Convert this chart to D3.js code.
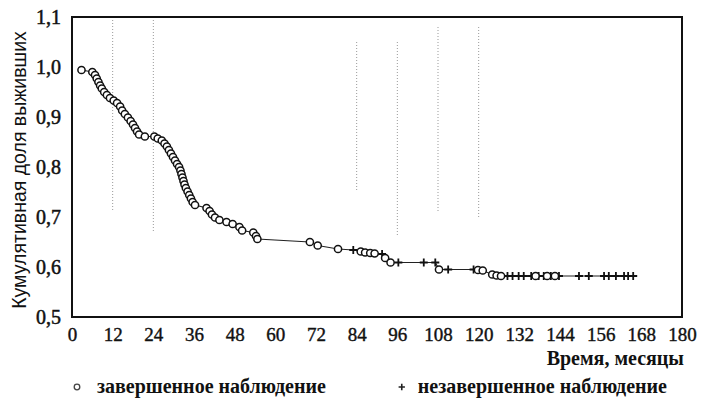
<!DOCTYPE html>
<html>
<head>
<meta charset="utf-8">
<script src="https://cdn.jsdelivr.net/npm/d3@7"></script>
<style>
  body { margin: 0; background: #fff; }
</style>
</head>
<body>
<div id="canvas"></div>
<script>
"use strict"

/* Configuration variables: drawing */
let svgWidth = 701;
let svgHeight = 404;
let plotLeft = 72;
let plotRight = 682;
let plotTop = 17;
let plotBottom = 317;

/* Data: Kaplan-Meier curve */
// completed observations (circles): time in months, cumulative survival
let eventTimes = [2.8, 6, 6.8, 7.3, 7.8, 8.3, 8.8, 9.5, 10.3, 11.2, 12.3, 13.3, 14.2, 14.8, 15.6,
                  16.5, 17.3, 18, 18.6, 19.2, 19.8, 21.5, 24.3, 25.3, 26.5, 27.3, 28, 28.6, 29.2,
                  29.8, 30.4, 31, 31.6, 32, 32.3, 32.6, 32.9, 33.2, 33.6, 34.1, 34.6, 35.1, 35.6,
                  36.3, 39.7, 40.6, 41.3, 42.2, 43.5, 45.6, 47.4, 49.4, 50.2, 53.5, 54.3, 54.7,
                  70.2, 72.5, 78.5, 85.2, 86.5, 88, 89.3, 92.4, 94, 108.3, 119.8, 121.2, 124,
                  125.3, 126.6, 136.8, 140.2, 142.5];
let eventSurv = [0.994, 0.99, 0.984, 0.977, 0.97, 0.963, 0.957, 0.95, 0.944, 0.938, 0.933, 0.928,
                 0.921, 0.913, 0.906, 0.899, 0.892, 0.885, 0.878, 0.871, 0.865, 0.861, 0.861, 0.857,
                 0.853, 0.847, 0.841, 0.834, 0.827, 0.82, 0.813, 0.806, 0.8, 0.793, 0.786, 0.779,
                 0.772, 0.765, 0.758, 0.751, 0.744, 0.737, 0.73, 0.724, 0.718, 0.712, 0.705, 0.699,
                 0.694, 0.69, 0.686, 0.68, 0.673, 0.669, 0.662, 0.656, 0.65, 0.643, 0.636, 0.631,
                 0.629, 0.628, 0.627, 0.618, 0.609, 0.595, 0.594, 0.593, 0.585, 0.583, 0.582,
                 0.582, 0.582, 0.582];

// censored observations (crosses)
let censorTimes = [83, 91.5, 96.3, 103.8, 107.2, 111, 118.5, 128.5, 130, 131.8, 133.3, 135.5,
                   137.7, 139.2, 141.3, 143.7, 149.6, 152.5, 157, 158.4, 160.5, 162.9, 164.1, 165.6];
let censorSurv = [0.634, 0.626, 0.609, 0.609, 0.609, 0.595, 0.595, 0.582, 0.582, 0.582, 0.582, 0.582,
                  0.582, 0.582, 0.582, 0.582, 0.582, 0.582, 0.582, 0.582, 0.582, 0.582, 0.582, 0.582];

/* Tick labels */
let xTicks = [0, 12, 24, 36, 48, 60, 72, 84, 96, 108, 120, 132, 144, 156, 168, 180];
let yTicks = [0.5, 0.6, 0.7, 0.8, 0.9, 1.0, 1.1];

/* faint dotted grid lines that survived the print: time, top and bottom survival */
let gridTimes = [12, 24, 84, 96, 108, 120];
let gridTop = [1.1, 1.1, 1.05, 1.05, 1.08, 1.08];
let gridBottom = [0.71, 0.67, 0.75, 0.66, 0.71, 0.7];

/* Texts */
let yTitle = "Кумулятивная доля выживших";
let xTitle = "Время, месяцы";
let legendLabels = ["завершенное наблюдение", "незавершенное наблюдение"];

/* Create drawing canvas */
let svg = d3.select("#canvas")
    .append("svg")
    .attr("width", svgWidth)
    .attr("height", svgHeight);

svg.append("rect")
    .attr("width", svgWidth)
    .attr("height", svgHeight)
    .attr("fill", "white");

/* Scales */
let xScale = d3.scaleLinear()
    .domain([0, 180])
    .range([plotLeft, plotRight]);

let yScale = d3.scaleLinear()
    .domain([0.5, 1.1])
    .range([plotBottom, plotTop]);

/* Grid lines */
gridTimes.forEach(function (t, i) {
    svg.append("line")
        .attr("x1", xScale(t))
        .attr("x2", xScale(t))
        .attr("y1", yScale(gridTop[i]))
        .attr("y2", yScale(gridBottom[i]))
        .attr("stroke", "#999")
        .attr("stroke-width", 1)
        .attr("stroke-dasharray", "1,2");
});

/* Frame */
svg.append("rect")
    .attr("x", plotLeft)
    .attr("y", plotTop)
    .attr("width", plotRight - plotLeft)
    .attr("height", plotBottom - plotTop)
    .attr("fill", "none")
    .attr("stroke", "#111")
    .attr("stroke-width", 2);

/* Axes (labels only) */
let fmt = function (d) { return d3.format(".1f")(d).replace(".", ","); };

let yAxis = svg.append("g")
    .attr("transform", "translate(" + (plotLeft - 8) + ",0)")
    .call(d3.axisLeft(yScale).tickValues(yTicks).tickFormat(fmt).tickSize(0));
yAxis.select(".domain").remove();
yAxis.selectAll("text")
    .style("font-family", "'Liberation Serif', serif")
    .style("font-size", "20px")
    .style("fill", "#111")
    .style("stroke", "#111")
    .style("stroke-width", 0.5);

let xAxis = svg.append("g")
    .attr("transform", "translate(0," + (plotBottom + 7) + ")")
    .call(d3.axisBottom(xScale).tickValues(xTicks).tickSize(0));
xAxis.select(".domain").remove();
xAxis.selectAll("text")
    .style("font-family", "'Liberation Serif', serif")
    .style("font-size", "19px")
    .style("fill", "#111")
    .style("stroke", "#111")
    .style("stroke-width", 0.4);

/* Survival curve through all observations */
let allPoints = eventTimes.map(function (t, i) { return [t, eventSurv[i]]; })
    .concat(censorTimes.map(function (t, i) { return [t, censorSurv[i]]; }))
    .sort(function (a, b) { return a[0] - b[0]; });

let line = d3.line()
    .x(function (d) { return xScale(d[0]); })
    .y(function (d) { return yScale(d[1]); });

svg.append("path")
    .datum(allPoints)
    .attr("d", line)
    .attr("fill", "none")
    .attr("stroke", "#222")
    .attr("stroke-width", 1.2);

/* Censored crosses */
let plus = {
    draw: function (ctx, size) {
        let h = Math.sqrt(size) / 2;
        ctx.moveTo(-h, 0); ctx.lineTo(h, 0);
        ctx.moveTo(0, -h); ctx.lineTo(0, h);
    }
};
svg.selectAll(".censor")
    .data(censorTimes)
    .join("path")
    .classed("censor", true)
    .attr("transform", function (t, i) {
        return "translate(" + xScale(t) + "," + yScale(censorSurv[i]) + ")";
    })
    .attr("d", d3.symbol().type(plus).size(64))
    .attr("stroke", "#111")
    .attr("stroke-width", 1.8)
    .attr("fill", "none");

/* Completed circles */
svg.selectAll(".event")
    .data(eventTimes)
    .join("circle")
    .classed("event", true)
    .attr("cx", function (t) { return xScale(t); })
    .attr("cy", function (t, i) { return yScale(eventSurv[i]); })
    .attr("r", 3.6)
    .attr("fill", "white")
    .attr("stroke", "#111")
    .attr("stroke-width", 1.5);

/* Axis titles */
svg.append("text")
    .attr("transform", "translate(26," + ((plotTop + plotBottom) / 2 + 3) + ") rotate(-90)")
    .attr("text-anchor", "middle")
    .style("font-family", "'Liberation Sans', sans-serif")
    .style("font-size", "19.5px")
    .style("fill", "#111")
    .text(yTitle);

svg.append("text")
    .attr("x", 684)
    .attr("y", 365)
    .attr("text-anchor", "end")
    .style("font-family", "'Liberation Serif', serif")
    .style("font-weight", "bold")
    .style("font-size", "20px")
    .style("fill", "#111")
    .text(xTitle);

/* Legend */
let legendY = 393;
let legendFont = "20px";

svg.append("circle")
    .attr("cx", 77)
    .attr("cy", legendY - 6)
    .attr("r", 2.8)
    .attr("fill", "white")
    .attr("stroke", "#444")
    .attr("stroke-width", 1.3);

svg.append("text")
    .attr("x", 97)
    .attr("y", legendY)
    .style("font-family", "'Liberation Serif', serif")
    .style("font-weight", "bold")
    .style("font-size", legendFont)
    .style("fill", "#111")
    .text(legendLabels[0]);

let legend2 = svg.append("text")
    .attr("x", 667)
    .attr("y", legendY)
    .attr("text-anchor", "end")
    .style("font-family", "'Liberation Serif', serif")
    .style("font-weight", "bold")
    .style("font-size", legendFont)
    .style("fill", "#111")
    .text(legendLabels[1]);

let legend2Start = 667 - legend2.node().getComputedTextLength();
svg.append("path")
    .attr("transform", "translate(" + (legend2Start - 16) + "," + (legendY - 6) + ")")
    .attr("d", d3.symbol().type(plus).size(40))
    .attr("stroke", "#222")
    .attr("stroke-width", 1.6);
</script>
</body>
</html>
